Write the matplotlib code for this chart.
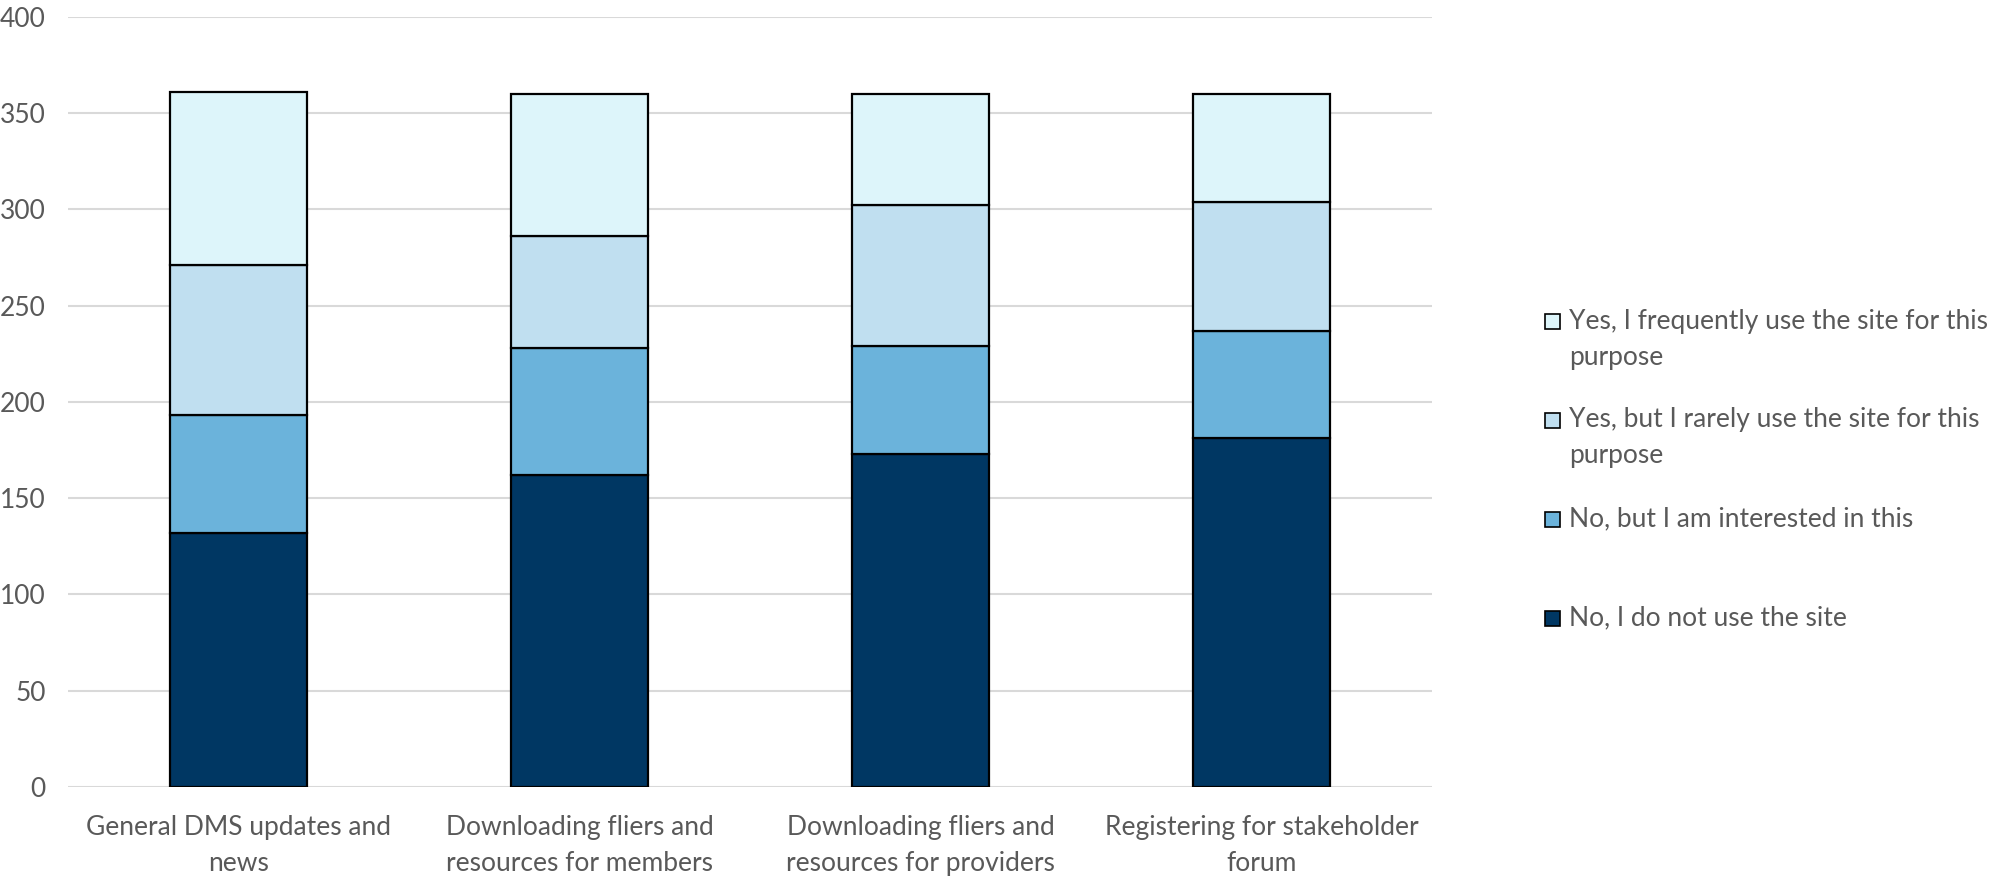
import numpy as np
import matplotlib
matplotlib.use("Agg")
import matplotlib.pyplot as plt
from matplotlib.patches import Rectangle

# data
categories = [
    "General DMS updates and\nnews",
    "Downloading fliers and\nresources for members",
    "Downloading fliers and\nresources for providers",
    "Registering for stakeholder\nforum",
]
no_use = [132, 162, 173, 181]
no_interested = [61, 66, 56, 56]
yes_rarely = [78, 58, 73, 67]
yes_frequently = [90, 74, 58, 56]

series_names = [
    "No, I do not use the site",
    "No, but I am interested in this",
    "Yes, but I rarely use the site for this\npurpose",
    "Yes, I frequently use the site for this\npurpose",
]
colors = ["#003763", "#6BB3DB", "#C0DFF0", "#DDF5FA"]

plt.rcParams['font.family'] = ['Lato', 'DejaVu Sans']
text_color = "#595959"

fig = plt.figure(figsize=(20.13, 8.77), dpi=100)
ax = fig.add_axes([0.0338, 0.1026, 0.6776, 0.8783])

x = np.arange(len(categories))
bottom = np.zeros(len(categories))
for vals, col in zip([no_use, no_interested, yes_rarely, yes_frequently], colors):
    ax.bar(x, vals, bottom=bottom, width=0.40, color=col,
           edgecolor="black", linewidth=1.6, zorder=3)
    bottom += np.array(vals)

ax.set_xlim(-0.5, len(categories) - 0.5)
ax.set_ylim(0, 400)
ax.set_yticks(np.arange(0, 401, 50))
ax.grid(axis="y", color="#D9D9D9", linewidth=1.5, zorder=0)
for s in ax.spines.values():
    s.set_visible(False)
ax.tick_params(axis="both", length=0, colors=text_color, labelsize=19)
ax.tick_params(axis="y", pad=16)
ax.tick_params(axis="x", pad=20)
ax.set_xticks(x)
ax.set_xticklabels(categories, linespacing=1.55)

# legend drawn by hand, top entry is the top segment
W, H = 2013, 877
entry_y = [321, 420, 519, 618]
for name, col, yc in zip(series_names[::-1], colors[::-1], entry_y):
    sq = 15
    fig.patches.append(Rectangle((1545 / W, (H - yc - sq / 2) / H), sq / W, sq / H,
                                 facecolor=col, edgecolor="black", linewidth=1.2,
                                 transform=fig.transFigure, figure=fig))
    lines = name.split("\n")
    for i, line in enumerate(lines):
        fig.text(1569 / W, (H - yc - 36 * i) / H, line, fontsize=19,
                 color=text_color, va="center", ha="left")

fig.savefig("out.png", dpi=100)
